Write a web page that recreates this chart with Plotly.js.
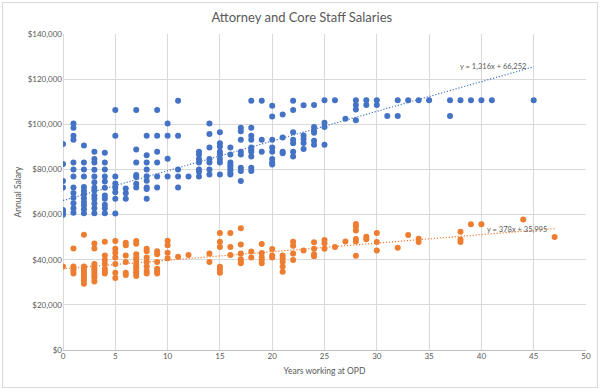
<!DOCTYPE html>
<html>
<head>
<meta charset="utf-8">
<script src="https://cdn.plot.ly/plotly-3.0.1.min.js"></script>
<style>
  html, body { margin: 0; padding: 0; background: #fff; }
  #wrap { position: relative; width: 600px; height: 390px; }
  #chart { width: 600px; height: 390px; }
  #frame { position: absolute; left: 2px; top: 2px; width: 594px; height: 384px; border: 1px solid #d9d9d9; pointer-events: none; }
</style>
</head>
<body>
<div id="wrap"><div id="chart"></div><div id="frame"></div></div>
<script>
// Attorneys (blue)
const attorneyYears = [
  0,0,0,0,0,0,0,
  1,1,1,1,1,1,1,1,1,1,1,1,1,
  2,2,2,2,2,2,2,2,2,2,2,2,
  3,3,3,3,3,3,3,3,3,3,3,3,3,
  4,4,4,4,4,4,4,4,4,4,4,
  5,5,5,5,5,5,5,5,
  6,6,6,
  7,7,7,7,7,7,7,
  8,8,8,8,8,8,8,8,8,
  9,9,9,9,9,9,
  10,10,10,10,
  11,11,11,11,11,
  12,
  13,13,13,13,13,13,13,
  14,14,14,14,14,14,14,
  15,15,15,15,15,15,15,15,
  16,16,16,16,16,16,16,16,
  17,17,17,17,17,17,17,17,
  18,18,18,18,18,18,18,18,18,18,
  19,19,19,
  20,20,20,20,20,20,20,20,
  21,21,21,21,
  22,22,22,22,22,22,22,
  23,23,23,23,23,
  24,24,24,24,24,24,
  25,25,25,25,
  26,
  27,
  28,28,28,28,
  29,29,
  30,30,
  31,
  32,32,
  33,34,35,
  37,37,
  38,39,40,41,45
];
const attorneySalaries = [
  91300,82400,74900,72000,62000,60900,59900,
  100400,98500,94900,93100,83100,80000,76900,72000,69600,67400,65000,62800,60800,
  90600,83100,80000,76900,72200,70600,69000,67200,65600,64100,62400,60600,
  87800,84600,83100,79900,76900,74300,71900,70700,68500,67000,64900,62800,60600,
  87400,83100,80000,76900,74600,71900,68500,67000,64400,62800,60600,
  106300,94900,76900,73800,71900,69900,67000,60500,
  71500,69400,67000,
  106300,88800,83100,77500,76600,73700,72000,
  94900,86300,83100,80000,77000,75000,72000,71300,67000,
  106300,94900,87800,83100,76900,72000,
  100400,94900,84700,76900,
  110400,94900,80000,76900,72000,
  76900,
  87800,86600,84600,83100,80000,79000,76900,
  100400,95700,89700,84600,83100,80000,77700,
  96500,91600,90200,87800,86600,84600,83100,77700,
  89700,86600,83100,81800,80700,79600,78400,77700,
  98500,96900,93100,87800,86600,80700,79300,74900,
  110400,98500,94900,93100,89700,88700,87800,85700,80700,79300,
  110400,93100,87800,
  108200,103500,93100,89700,87800,84600,83100,82200,
  104300,94100,87800,87200,
  110400,106300,96500,93100,91600,87800,85700,
  108400,95000,93500,91700,89000,
  108500,98800,97200,96300,92700,90900,
  110600,100700,98800,90900,
  110600,
  102500,
  110600,108500,106600,101800,
  110600,108500,
  110600,108500,
  103700,
  110600,103700,
  110600,110600,110600,
  110600,103700,
  110600,110600,110600,110600,110600
];

// Core staff (orange)
const staffYears = [
  0,
  1,1,1,1,1,
  2,2,2,2,2,2,2,2,2,
  3,3,3,3,3,3,3,3,3,3,
  4,4,4,4,4,4,4,
  5,5,5,5,5,5,5,
  6,6,6,6,6,6,
  7,7,7,7,7,7,7,7,7,7,7,
  8,8,8,8,8,8,8,
  9,9,9,9,9,9,
  10,10,10,10,
  11,12,
  14,14,
  15,15,15,15,15,15,
  16,16,16,
  17,17,17,17,17,17,
  18,18,
  19,19,19,19,19,
  20,20,20,
  21,21,21,21,21,
  22,22,22,22,
  23,
  24,24,24,24,
  25,25,25,
  26,27,
  28,28,28,28,28,28,
  29,29,
  30,30,30,
  32,33,
  34,34,
  38,38,38,
  39,40,44,47
];
const staffSalaries = [
  37000,
  45000,37000,36000,35000,33900,
  51100,37000,36000,35000,33900,32900,31900,30800,29300,
  47200,45000,38100,37000,36000,35000,33900,32900,31900,30300,
  48000,41900,39900,38100,36000,35000,33900,
  48300,44900,43100,41000,38100,34200,31900,
  47500,46400,41900,39000,34200,33200,
  48300,47100,42400,41000,39900,38100,37000,36000,34800,33900,32800,
  44900,43800,41000,39000,37000,35000,33900,
  43800,42400,39000,36000,35000,33900,
  48400,46400,43100,40600,
  41300,42100,
  42700,39000,
  51800,48000,45600,36900,35700,34200,
  51800,45600,42100,
  53900,46700,42700,40200,39100,38400,
  43600,41000,
  47000,43000,41200,39900,38400,
  44700,41900,41000,
  41900,40600,39100,37000,34700,
  48000,46200,42700,39900,
  44100,
  47700,44900,42400,41500,
  48700,47300,44900,
  45600,48100,
  55800,54700,52900,49200,48100,41800,
  50200,49100,
  51800,47900,44100,
  45300,51000,
  49300,47900,
  52400,49000,47900,
  55700,55700,57800,50100
];

// Trendline equations shown on the chart
const attorneyTrend = { slope: 1316, intercept: 66252, label: 'y = 1,316x + 66,252' };
const staffTrend = { slope: 378, intercept: 35995, label: 'y = 378x + 35,995' };

const blue = '#4472C4';
const orange = '#ED7D31';
const textGray = '#595959';
const gridGray = '#d9d9d9';

function trendLine(years, t) {
  const x0 = Math.min(...years), x1 = Math.max(...years);
  return { x: [x0, x1], y: [t.intercept + t.slope * x0, t.intercept + t.slope * x1] };
}
const at = trendLine(attorneyYears, attorneyTrend);
const st = trendLine(staffYears, staffTrend);

const data = [
  { type: 'scatter', mode: 'lines', x: at.x, y: at.y,
    line: { color: blue, width: 1.2, dash: '1.2px,1.8px' }, hoverinfo: 'skip' },
  { type: 'scatter', mode: 'lines', x: st.x, y: st.y,
    line: { color: orange, width: 1.2, dash: '1.2px,1.8px' }, hoverinfo: 'skip' },
  { type: 'scatter', mode: 'markers', x: attorneyYears, y: attorneySalaries,
    marker: { color: blue, size: 6 } },
  { type: 'scatter', mode: 'markers', x: staffYears, y: staffSalaries,
    marker: { color: orange, size: 6 } }
];

const font = 'Lato, "Open Sans", "Liberation Sans", sans-serif';

const layout = {
  width: 600, height: 390,
  margin: { l: 63, r: 14, t: 34, b: 40 },
  paper_bgcolor: '#fff', plot_bgcolor: '#fff',
  showlegend: false,
  font: { family: font, color: textGray, size: 8 },
  title: { text: 'Attorney and Core Staff Salaries', font: { family: font, size: 13, color: textGray },
           x: 0.503, xanchor: 'center', y: 0.955, yanchor: 'middle', yref: 'container' },
  xaxis: {
    range: [0, 50], dtick: 5, tick0: 0,
    showgrid: true, gridcolor: gridGray, gridwidth: 1,
    zeroline: true, zerolinecolor: gridGray, zerolinewidth: 1,
    showline: false, ticks: '',
    tickfont: { family: font, size: 8, color: textGray },
    title: { text: 'Years working at OPD', font: { family: font, size: 8.5, color: textGray }, standoff: 8 }
  },
  yaxis: {
    range: [0, 140000], dtick: 20000, tick0: 0,
    tickformat: ',d', tickprefix: '$',
    showgrid: true, gridcolor: gridGray, gridwidth: 1,
    zeroline: true, zerolinecolor: '#bfbfbf', zerolinewidth: 1,
    showline: false, ticks: '',
    tickfont: { family: font, size: 8, color: textGray },
    title: { text: 'Annual Salary', font: { family: font, size: 8.5, color: textGray }, standoff: 4 }
  },
  annotations: [
    { x: 41.1, y: 125500, xref: 'x', yref: 'y', text: attorneyTrend.label, showarrow: false,
      font: { family: font, size: 7.5, color: textGray } },
    { x: 43.4, y: 53500, xref: 'x', yref: 'y', text: staffTrend.label, showarrow: false,
      font: { family: font, size: 7.5, color: textGray } }
  ]
};

Plotly.newPlot('chart', data, layout, { displayModeBar: false, staticPlot: true });
</script>
</body>
</html>
